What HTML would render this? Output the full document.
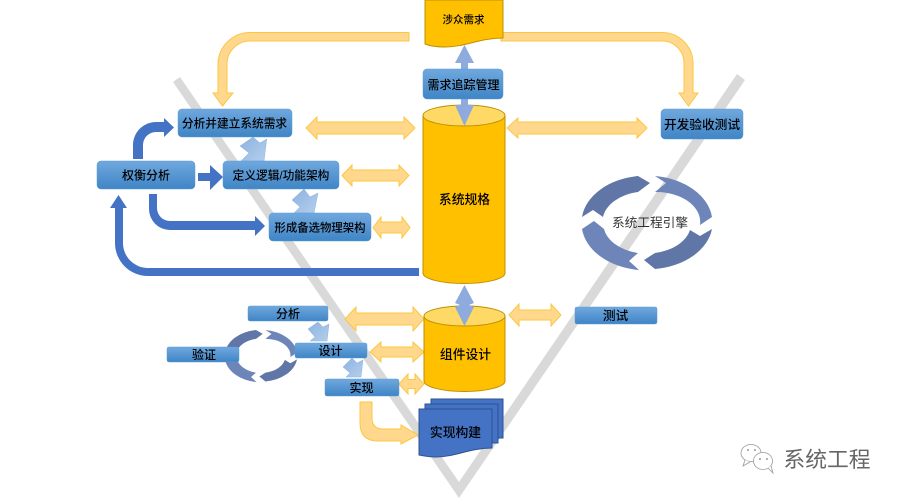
<!DOCTYPE html>
<html><head><meta charset="utf-8">
<style>
html,body{margin:0;padding:0;background:#fff;width:900px;height:500px;overflow:hidden}
svg{display:block}
text{font-family:"Liberation Sans","Noto Sans CJK SC",sans-serif;font-size:12px;fill:#000;text-anchor:middle;font-weight:500}
.y{fill:#ffd88d;stroke:#fcc63f;stroke-width:1}
.b{fill:#4472c4}
.l{fill:url(#lb);stroke:#8db3e0;stroke-width:.5}
.p{fill:#8faadc}
.box{fill:url(#bx);stroke:#5b9bd5;stroke-width:.5}
.cy{fill:#ffc000;stroke:#bf9000;stroke-width:1}
.cyt{fill:#ffd966;stroke:#bf9000;stroke-width:1}
.doc{fill:#4472c4;stroke:#2f528f;stroke-width:1}
</style></head><body>
<svg width="900" height="500" viewBox="0 0 900 500" xmlns="http://www.w3.org/2000/svg">
<defs>
<linearGradient id="bx" x1="0" y1="0" x2="0" y2="1"><stop offset="0" stop-color="#70a8de"/><stop offset="1" stop-color="#3f85c6"/></linearGradient>
<linearGradient id="lb" x1="0" y1="0" x2="1" y2="1"><stop offset="0" stop-color="#8cb2e0"/><stop offset="1" stop-color="#b5cfec"/></linearGradient>
<g id="cycle">
<path fill="#6076a6" d="M582 217 A65 47 0 0 1 638 176 L650 183 L638 192 A44 30 0 0 0 603 217 L593 210 Z"/>
<path fill="#6e85b9" d="M655 176 A65 47 0 0 1 712 217 L700 225 A44 30 0 0 0 655 192 L666 183 Z"/>
<path fill="#6076a6" d="M712 229 A65 47 0 0 1 655 269 L644 260 L655 253 A44 30 0 0 0 690 230 L700 236 Z"/>
<path fill="#6e85b9" d="M582 229 L594 221 L604 229 A44 30 0 0 0 638 253 L629 261 L639 270 A65 47 0 0 1 582 229 Z"/>
</g>
</defs>

<!-- V -->
<polygon fill="#d9d9d9" points="173,82 459,498 745,80 737,74 459,482 180,77"/>

<!-- curved yellow -->
<path class="y" d="M409 32.500 H250 A32 32 0 0 0 218 64 V93 H213 L222.500 106 L233 93 H227 V64 A23 23 0 0 1 250 41 H409 Z"/>
<path class="y" d="M501 32.500 H662 A31 31 0 0 1 693 64 V93 H698 L688.500 106 L679 93 H684 V64 A22 22 0 0 0 662 41 H501 Z"/>
<path class="y" d="M360 402 H372 V418 Q372 429 383 429 H401 V425 L418 435 L401 444 V441 H378 Q360 441 360 423 Z"/>

<!-- yellow double arrows -->
<polygon class="y" points="306,128 317,117 317,122 404,122 404,117 415,128 404,139 404,134 317,134 317,139"/>
<polygon class="y" points="342,175.500 352,165 352,170 399,170 399,165 409,175.500 399,186 399,181 352,181 352,186"/>
<polygon class="y" points="373,227.500 381,217 381,222 402,222 402,217 410,227.500 402,238 402,233 381,233 381,238"/>
<polygon class="y" points="507,128 518,118 518,122 637,122 637,118 647,128 637,138 637,134 518,134 518,138"/>
<polygon class="y" points="345,319 356,307 356,313 413,313 413,307 424,319 413,331 413,325 356,325 356,331"/>
<polygon class="y" points="370,352 381,342 381,347 413,347 413,342 424,352 413,362 413,357 381,357 381,362"/>
<polygon class="y" points="399,384 408,374 408,379.500 415,379.500 415,374 424,384 415,394 415,388.500 408,388.500 408,394"/>
<polygon class="y" points="509,315 519,304 519,310 551,310 551,304 561,315 551,326 551,320 519,320 519,326"/>

<!-- blue arrows -->
<path class="b" d="M133 159 V145 A23 23 0 0 1 156 122 H164 V118 L174 127.500 L164 137 V132 H156 A13 13 0 0 0 143 145 V159 Z"/>
<polygon class="b" points="198,173 210,173 210,165 223,177 210,190 210,181 198,181"/>
<path class="b" d="M149 194 H157 V208 A13 13 0 0 0 170 221 H255 V216 L265 226 L255 236 V230 H170 A21 21 0 0 1 149 209 Z"/>
<path class="b" d="M419 268 V276 H148 A33 33 0 0 1 115 243 V208 H110 L118.500 195 L127 208 H123 V243 A25 25 0 0 0 148 268 Z"/>

<!-- light blue block arrows -->
<polygon class="l" points="240,146 253,137 260,143 266.700,139 264,161 241,161 249,153"/>
<polygon class="l" points="292,200 304,189 310,197 318,193 314,213 294,213 300,207"/>
<polygon class="l" points="308,329 318,322 323,327 329,324 327,341 310,341 315,337"/>
<polygon class="l" points="343,367 352,358 357,363 363,360 361,377 346,377 350,373"/>

<!-- cycles -->
<use href="#cycle"/>
<use href="#cycle" transform="translate(261 356) scale(.554) translate(-647 -223)"/>

<!-- big cylinder -->
<path class="cy" d="M423 115.500 V273 A41 10.500 0 0 0 505 273 V115.500 Z"/>
<ellipse class="cyt" cx="464" cy="115.500" rx="41" ry="10.500"/>
<!-- small cylinder -->
<path class="cy" d="M424 316 V381 A40.500 10.500 0 0 0 505 381 V316 Z"/>
<ellipse class="cyt" cx="464.500" cy="316" rx="40.500" ry="10"/>

<!-- periwinkle double arrows -->
<polygon class="p" points="464.500,45 474,63 468,63 468,105 474,105 464.500,126 455,105 461,105 461,63 455,63"/>
<polygon class="p" points="464.500,285 474,303 469,305 474,307 464.500,326 455,307 460,305 455,303"/>

<!-- documents -->
<path fill="#ffc000" stroke="#bf9000" stroke-width="1" d="M425 0 H503 V38 C480 38 465 47 445 47 C436 47 430 46 425 44 Z"/>
<path class="doc" d="M431 399 H503 V438 H431 Z"/>
<path class="doc" d="M425 404 H498 V443 H425 Z"/>
<path class="doc" d="M419 409 H492 V448 C470 448 455 457 436 457 C429 457 424 456 419 455 Z"/>

<!-- boxes -->
<rect class="box" x="178" y="109" width="114" height="28" rx="4"/>
<rect class="box" x="223" y="161" width="116" height="28" rx="4"/>
<rect class="box" x="97" y="161" width="98" height="28" rx="4"/>
<rect class="box" x="269" y="213" width="102" height="28" rx="4"/>
<rect class="box" x="423" y="69" width="80" height="30" rx="4"/>
<rect class="box" x="661" y="109" width="82" height="30" rx="4"/>
<rect class="box" x="575" y="307" width="82" height="17" rx="2"/>
<rect class="box" x="248" y="306" width="80" height="15" rx="2"/>
<rect class="box" x="295" y="343" width="72" height="15" rx="2"/>
<rect class="box" x="167" y="347" width="72" height="15" rx="2"/>
<rect class="box" x="325" y="379" width="74" height="17" rx="2"/>

<!-- labels -->
<text x="234.500" y="127.500" style="font-size:11.700px">分析并建立系统需求</text>
<text x="281" y="179.500" style="font-size:11.700px">定义逻辑/功能架构</text>
<text x="146" y="179.500">权衡分析</text>
<text x="320" y="231.500" style="font-size:11.400px">形成备选物理架构</text>
<text x="463.500" y="89">需求追踪管理</text>
<text x="702" y="129" style="font-size:12.700px">开发验收测试</text>
<text x="615.500" y="320" style="font-size:12.700px">测试</text>
<text x="288" y="318">分析</text>
<text x="330.500" y="355">设计</text>
<text x="204" y="359">验证</text>
<text x="361.500" y="392">实现</text>
<text x="463.500" y="23" style="font-size:10.500px">涉众需求</text>
<text x="464.500" y="204" style="font-size:12.800px">系统规格</text>
<text x="465.500" y="359" style="font-size:12.800px">组件设计</text>
<text x="455.500" y="437" style="font-size:12.800px">实现构建</text>
<text x="650" y="227" style="fill:#333;font-weight:400;font-size:12.700px">系统工程引擎</text>

<!-- watermark -->
<g fill="#fff" stroke="#9a9a9a" stroke-width=".8">
<ellipse cx="751" cy="453" rx="10" ry="8.500"/>
<path d="M745 460 L743 466 L750 462"/>
<ellipse cx="763" cy="461" rx="9.500" ry="8.500"/>
<path d="M768 468 L773 473 L771 466"/>
</g>
<g fill="#9a9a9a"><circle cx="748" cy="450" r="1"/><circle cx="755" cy="450" r="1"/><circle cx="760" cy="459" r="1"/><circle cx="767" cy="459" r="1"/></g>
<text x="827" y="467" style="font-size:21.800px;fill:#666;font-weight:400">系统工程</text>
</svg>
</body></html>
